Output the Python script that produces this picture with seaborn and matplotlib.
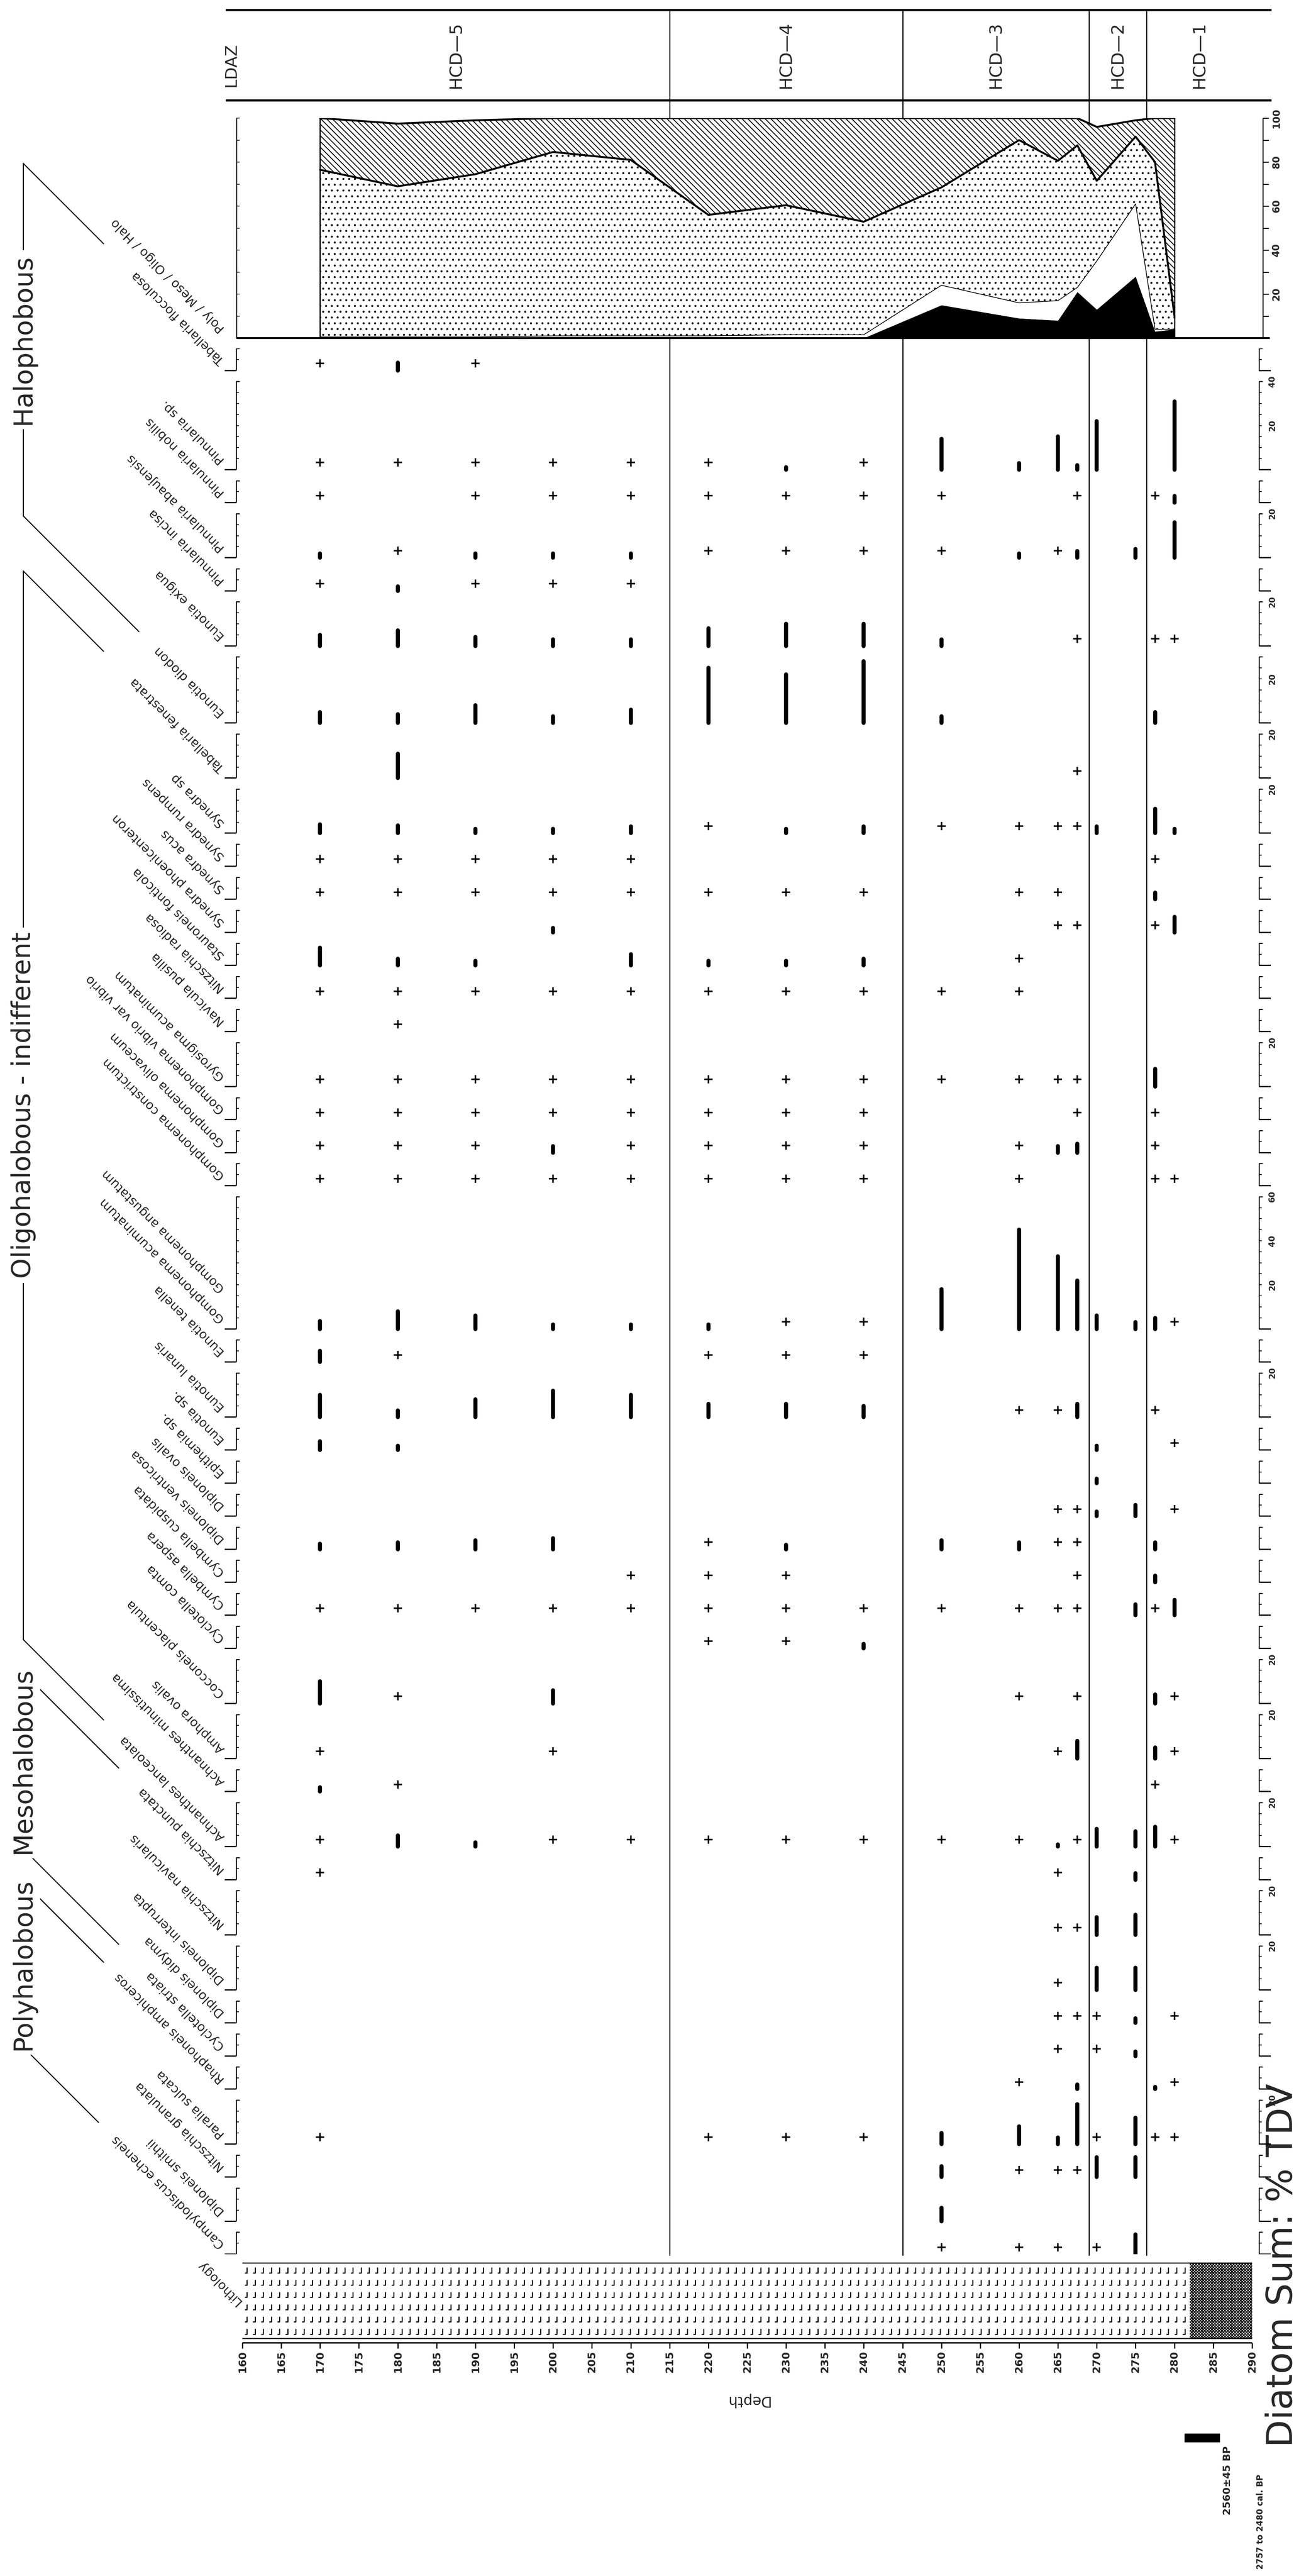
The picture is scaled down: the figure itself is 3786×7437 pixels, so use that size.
import numpy as np
import matplotlib
matplotlib.use("Agg")
import matplotlib.pyplot as plt
from matplotlib import font_manager
from matplotlib.path import Path
import seaborn as sns

sns.set_theme(style="white")
plt.rcParams['font.family'] = ['DejaVu Sans']
plt.rcParams['hatch.color'] = 'black'
plt.rcParams['hatch.linewidth'] = 1.8

# ---------------- data ----------------
depths = [170, 180, 190, 200, 210, 220, 230, 240, 250, 260, 265, 267.5, 270, 275, 277.5, 280]

# summary diagram (% of total diatom valves)
poly_pct = [0, 0, 0, 0, 0, 0, 0, 0, 15, 9, 8, 21, 13, 28, 3, 4]
meso_pct = [0.5, 0.5, 0.5, 1, 1, 1, 1.5, 1.5, 9, 7, 9, 2, 22, 33, 1, 0]
oligo_pct = [76, 68.5, 74, 83.6, 80, 55, 58.9, 51.4, 44.5, 74, 63.6, 64.6, 36.5, 30.6, 76, 6]
halo_pct = [23.5, 28.5, 24.5, 15.4, 19, 44, 39.6, 47.1, 31.5, 10, 19.4, 12.4, 24.5, 7.4, 20, 90]

zone_names = ["HCD—5", "HCD—4", "HCD—3", "HCD—2", "HCD—1"]
zone_bounds = [160, 215, 245, 269, 276.4, 290]

P = 0.5  # "+" = present, < 1 %

taxa = [
    "Tabellaria flocculosa", "Pinnularia sp.", "Pinnularia nobilis", "Pinnularia abaujensis",
    "Pinnularia incisa", "Eunotia exigua", "Eunotia diodon", "Tabellaria fenestrata",
    "Synedra sp", "Synedra rumpens", "Synedra acus", "Synedra phoenicenteron",
    "Stauroneis fonticola", "Nitzschia radiosa", "Navicula pusilla", "Gyrosigma acuminatum",
    "Gomphonema vibrio var vibrio", "Gomphonema olivaceum", "Gomphonema constrictum",
    "Gomphonema acuminatum", "Eunotia tenella", "Eunotia lunaris", "Eunotia sp.",
    "Epithemia sp.", "Diploneis ovalis", "Diploneis ventricosa", "Cymbella cuspidata",
    "Cymbella aspera", "Cyclotella comta", "Cocconeis placentula", "Amphora ovalis",
    "Achnanthes minutissima", "Achnanthes lanceolata", "Nitzschia punctata",
    "Nitzschia navicularis", "Diploneis interrupta", "Diploneis didyma", "Cyclotella striata",
    "Rhaphoneis amphiceros", "Paralia sulcata", "Nitzschia granulata", "Diploneis smithii",
    "Campylodiscus echeneis",
]
extra_label = "Gomphonema angustatum"

taxa_scale = [10, 40, 10, 20, 10, 20, 30, 20, 20, 10, 10, 10, 10, 10, 10, 20, 10, 10, 10, 60,
              10, 20, 10, 10, 10, 10, 10, 10, 10, 20, 20, 10, 20, 10, 20, 20, 10, 10, 10, 20,
              10, 15, 10]

#            170 180 190 200 210 220 230 240 250 260 265 267.5 270 275 277.5 280
counts = [
    [P, 3.5, P, 0, 0, 0, 0, 0, 0, 0, 0, 0, 0, 0, 0, 0],
    [P, P, P, P, P, P, 1, P, 14, 3, 15, 2, 22, 0, 0, 31],
    [P, 0, P, P, P, P, P, P, P, 0, 0, P, 0, 0, P, 3],
    [2, P, 2, 2, 2, P, P, P, P, 2, P, 3, 0, 4, 0, 16],
    [P, 2, P, P, P, 0, 0, 0, 0, 0, 0, 0, 0, 0, 0, 0],
    [5, 7, 4, 3, 3, 8, 10, 10, 3, 0, 0, P, 0, 0, P, P],
    [5, 4, 8, 3, 6, 25, 22, 28, 3, 0, 0, 0, 0, 0, 5, 0],
    [0, 11, 0, 0, 0, 0, 0, 0, 0, 0, 0, P, 0, 0, 0, 0],
    [4, 3.5, 2, 2, 3, P, 2, 3, P, P, P, P, 3, 0, 11, 2],
    [P, P, P, P, P, 0, 0, 0, 0, 0, 0, 0, 0, 0, P, 0],
    [P, P, P, P, P, P, P, P, 0, P, P, 0, 0, 0, 3, 0],
    [0, 0, 0, 2, 0, 0, 0, 0, 0, 0, P, P, 0, 0, P, 7],
    [8, 3, 2, 0, 5, 2, 2, 3, 0, P, 0, 0, 0, 0, 0, 0],
    [P, P, P, P, P, P, P, P, P, P, 0, 0, 0, 0, 0, 0],
    [0, P, 0, 0, 0, 0, 0, 0, 0, 0, 0, 0, 0, 0, 0, 0],
    [P, P, P, P, P, P, P, P, P, P, P, P, 0, 0, 8, 0],
    [P, P, P, P, P, P, P, P, 0, 0, 0, P, 0, 0, P, 0],
    [P, P, P, 3, P, P, P, P, 0, P, 3, 4, 0, 0, P, 0],
    [P, P, P, P, P, P, P, P, 0, P, 0, 0, 0, 0, P, P],
    [3.5, 8, 6, 2, 2, 2, P, P, 18, 45, 33, 22, 6, 3, 5, P],
    [5, P, 0, 0, 0, P, P, P, 0, 0, 0, 0, 0, 0, 0, 0],
    [10, 3, 8, 12, 10, 6, 6, 5, 0, P, P, 6, 0, 0, P, 0],
    [4, 2, 0, 0, 0, 0, 0, 0, 0, 0, 0, 0, 2, 0, 0, P],
    [0, 0, 0, 0, 0, 0, 0, 0, 0, 0, 0, 0, 2, 0, 0, 0],
    [0, 0, 0, 0, 0, 0, 0, 0, 0, 0, P, P, 2, 5, 0, P],
    [2.5, 3, 4, 5, 0, P, 2, 0, 4, 3, P, P, 0, 0, 3, 0],
    [0, 0, 0, 0, P, P, P, 0, 0, 0, 0, P, 0, 0, 3, 0],
    [P, P, P, P, P, P, P, P, P, P, P, P, 0, 5, P, 7],
    [0, 0, 0, 0, 0, P, P, 2, 0, 0, 0, 0, 0, 0, 0, 0],
    [10, P, 0, 6, 0, 0, 0, 0, 0, P, 0, P, 0, 0, 4, P],
    [P, 0, 0, P, 0, 0, 0, 0, 0, 0, P, 8, 0, 0, 5, P],
    [2, P, 0, 0, 0, 0, 0, 0, 0, 0, 0, 0, 0, 0, P, 0],
    [P, 5, 2, P, P, P, P, P, P, P, 1, P, 8, 7, 9, P],
    [P, 0, 0, 0, 0, 0, 0, 0, 0, 0, P, 0, 0, 3, 0, 0],
    [0, 0, 0, 0, 0, 0, 0, 0, 0, 0, P, P, 8, 9, 0, 0],
    [0, 0, 0, 0, 0, 0, 0, 0, 0, 0, P, 0, 10, 10, 0, 0],
    [0, 0, 0, 0, 0, 0, 0, 0, 0, 0, P, P, P, 2, 0, P],
    [0, 0, 0, 0, 0, 0, 0, 0, 0, 0, P, 0, P, 2, 0, 0],
    [0, 0, 0, 0, 0, 0, 0, 0, 0, P, 0, 2, 0, 0, 1, P],
    [P, 0, 0, 0, 0, P, P, P, 5, 8, 3, 18, P, 12, P, P],
    [0, 0, 0, 0, 0, 0, 0, 0, 5, P, P, P, 9, 9, 0, 0],
    [0, 0, 0, 0, 0, 0, 0, 0, 6, 0, 0, 0, 0, 0, 0, 0],
    [0, 0, 0, 0, 0, 0, 0, 0, P, P, P, 0, P, 9, 0, 0],
]

groups = [("Halophobous", 0, 6), ("Oligohalobous - indifferent", 7, 32),
          ("Mesohalobous", 33, 37), ("Polyhalobous", 38, 42)]

litho_bounds = [160, 282, 290]
depth_ticks = list(range(160, 291, 5))
date_depths = [281.3, 285.8]
date_labels = ["2560±45 BP", "2757 to 2480 cal. BP"]

# ---------------- layout (pixels of the 3787 x 7437 page) ----------------
W, H = 3787, 7437
PXD = 22.43          # page pixels per cm of depth
X0 = 700             # page x of depth 160
XLIM = (160 - X0 / PXD, 160 + (W - X0) / PXD)
GAP = 5              # gap between taxon columns, in % units


def dep(px):
    return 160 + (px - X0) / PXD


fig = plt.figure(figsize=(W / 100, H / 100), dpi=100)
fig.patch.set_facecolor("white")


def band(top, bottom):
    a = fig.add_axes([0, 1 - bottom / H, 1, (bottom - top) / H])
    a.set_xlim(*XLIM)
    a.axis("off")
    a.patch.set_alpha(0)
    return a


names = {f.name for f in font_manager.fontManager.ttflist}
narrow = "Liberation Sans Narrow" if "Liberation Sans Narrow" in names else "DejaVu Sans"

bg = band(0, H)
bg.set_ylim(H, 0)

# zone band and zone lines
bg.hlines([29, 290], dep(652), dep(3672), color="black", lw=4.5)
bg.vlines(zone_bounds[1:-1], 29, 6512, color="black", lw=2.2, zorder=0)
bg.text(dep(668), 188, "LDAZ", rotation=90, ha="center", va="center", fontsize=34)
for i, z in enumerate(zone_names):
    bg.text((zone_bounds[i] + zone_bounds[i + 1]) / 2, 160, z, rotation=90,
            ha="center", va="center", fontsize=36)

# ---------------- summary diagram ----------------
summ = band(341, 976)
summ.set_ylim(0, 100)
d = np.array(depths, dtype=float)
layers = [np.array(poly_pct), np.array(meso_pct), np.array(oligo_pct), np.array(halo_pct)]
styles = [("black", None), ("white", None), ("white", "."), ("white", "\\\\")]
base = np.zeros_like(d)
tops = []
for vals, (fc, hatch) in zip(layers, styles):
    top = base + vals
    summ.fill_between(d, base, top, facecolor=fc, hatch=hatch, edgecolor="black",
                      linewidth=0, zorder=2)
    tops.append(top)
    base = top
summ.plot(d, tops[1], color="black", lw=1.5, zorder=3)
summ.plot(d, tops[2], color="black", lw=4, zorder=3)
summ.plot(d, tops[3], color="black", lw=4, zorder=3)
summ.vlines([d[0], d[-1]], 0, [tops[3][0], tops[3][-1]], color="black", lw=2.5, zorder=3)
summ.hlines(0, dep(683), dep(3667), color="black", lw=4, clip_on=False)
summ.vlines([dep(683), dep(3647)], 0, 100, color="black", lw=2.2, clip_on=False)
for k in range(0, 101, 10):
    summ.hlines(k, dep(3647), dep(3664), color="black", lw=2, clip_on=False)
    summ.hlines(k, dep(683), dep(692), color="black", lw=1.5, clip_on=False)
for k in range(20, 101, 20):
    summ.text(dep(3672), k, str(k), rotation=90, ha="left", va="center", fontsize=20,
              fontweight="bold", clip_on=False)
bg.text(dep(643), 976 - 22, "Poly / Meso / Oligo / Halo", rotation=135,
        rotation_mode="anchor", ha="left", va="center", fontsize=26)

# ---------------- taxa columns ----------------
tops_u, bots_u = [], []
pos = 0
for s in taxa_scale:
    tops_u.append(pos)
    bots_u.append(pos + s)
    pos += s + GAP
total_u = bots_u[-1]
ax = band(1006, 6508)
ax.set_ylim(total_u, 0)
upx = (6508 - 1006) / total_u   # page pixels per % unit

xl, xr = dep(682), dep(3636)
px = 1 / PXD
for i, name in enumerate(taxa):
    t, b, s = tops_u[i], bots_u[i], taxa_scale[i]
    vals = np.array(counts[i], dtype=float)
    for x in (xl, xr):
        ax.vlines(x, t, b, color="black", lw=2.2)
        ax.hlines(np.arange(b - 5, t - 0.01, -5), x, x + 8 * px, color="black", lw=1.6)
        ax.hlines(t, x, x + 10 * px, color="black", lw=2.2)
    ax.hlines(b, xl - 33 * px, xl, color="black", lw=2.6)
    ax.hlines(b, xr, xr + 34 * px, color="black", lw=2.6)
    for k in range(20, s + 1, 20):
        ax.text(xr + 26 * px, b - k, str(k), rotation=90, ha="left", va="center",
                fontsize=17, fontweight="bold")
    plus = vals == P
    bar = vals >= 1
    ax.plot(d[plus], np.full(plus.sum(), b - 3.2), linestyle="none", marker="+",
            markersize=17, mew=3.2, color="black")
    ax.vlines(d[bar], b, b - vals[bar], color="black", lw=8.5, capstyle="round")
    ax.text(dep(643), b - 22 / upx, name, rotation=135, rotation_mode="anchor",
            ha="left", va="center", fontsize=26)
ax.text(dep(643), bots_u[19] - 110 / upx, extra_label, rotation=135, rotation_mode="anchor",
        ha="left", va="center", fontsize=26)

# ecological groups
group_texts = []
for gname, a, bidx in groups:
    ya = 1006 + bots_u[a] * upx - 665
    yb = 1006 + bots_u[bidx] * upx - 665
    xv = 67
    for y0, nm in ((ya, taxa[a]), (yb, taxa[bidx])):
        xend = 650 - len(nm) * 20.6 * 0.707 - 45
        bg.plot([dep(xv), dep(xend)], [y0 + xv, y0 + xend], color="black", lw=2.2)
    bg.vlines(dep(xv), ya + xv, yb + xv, color="black", lw=2.2)
    group_texts.append(bg.text(dep(xv), (ya + yb) / 2 + xv, gname, rotation=90,
                               ha="center", va="center", fontsize=46,
                               family=[narrow, "DejaVu Sans"],
                               bbox=dict(facecolor="white", edgecolor="none", pad=8)))

# ---------------- lithology ----------------
lit = band(6532, 6753)
lit.set_ylim(0, 1)
lit.fill_between(litho_bounds[:2], 0, 1, facecolor="white", edgecolor="none")
peat = Path([(0.25, 1), (0.25, -1), (-0.6, -1)], [Path.MOVETO, Path.LINETO, Path.LINETO])
gx, gy = np.meshgrid(np.arange(litho_bounds[0] + 0.5, litho_bounds[1], 1.05),
                     np.linspace(0.1, 0.9, 6))
lit.scatter(gx.ravel(), gy.ravel(), marker=peat, s=120, facecolor="none",
            edgecolor="black", linewidth=2.2)
lit.fill_between(litho_bounds[1:], 0, 1, facecolor="white", hatch="xxxx", edgecolor="black",
                 linewidth=0)
lit.hlines([0, 1], 160, 290, color="black", lw=4.5)
bg.text(dep(690), 6650, "Lithology", rotation=135, rotation_mode="anchor", ha="left",
        va="center", fontsize=26)

# depth axis
bg.hlines(6764, 160, 290, color="black", lw=3)
bg.vlines(depth_ticks, 6764, 6780, color="black", lw=2.5)
for t in depth_ticks:
    bg.text(t, 6786, str(t), rotation=90, ha="center", va="top", fontsize=22,
            fontweight="bold")
bg.text(225, 6930, "Depth", rotation=180, ha="center", va="center", fontsize=30)

# radiocarbon date
bg.fill_between(date_depths, 7026, 7050, color="black")
bg.text(dep(3545), 7062, date_labels[0], rotation=90, ha="center", va="top",
        fontsize=21, fontweight="bold")
bg.text(dep(3640), 7418, date_labels[1], rotation=90, ha="center", va="bottom",
        fontsize=17, fontweight="bold")

sum_text = bg.text(dep(3703), 6540, "Diatom Sum: % TDV", rotation=90, ha="center",
                   va="center", fontsize=70, family=[narrow, "DejaVu Sans"])

# fit the long rotated labels to the lengths they have on the page
fig.canvas.draw()
rend = fig.canvas.get_renderer()
oligo_len = group_texts[1].get_window_extent(rend).height
gsize = 46 * 1000 / oligo_len
for gt in group_texts:
    gt.set_fontsize(gsize)
sum_len = sum_text.get_window_extent(rend).height
sum_text.set_fontsize(70 * 1050 / sum_len)

fig.savefig("out.png", dpi=100)
